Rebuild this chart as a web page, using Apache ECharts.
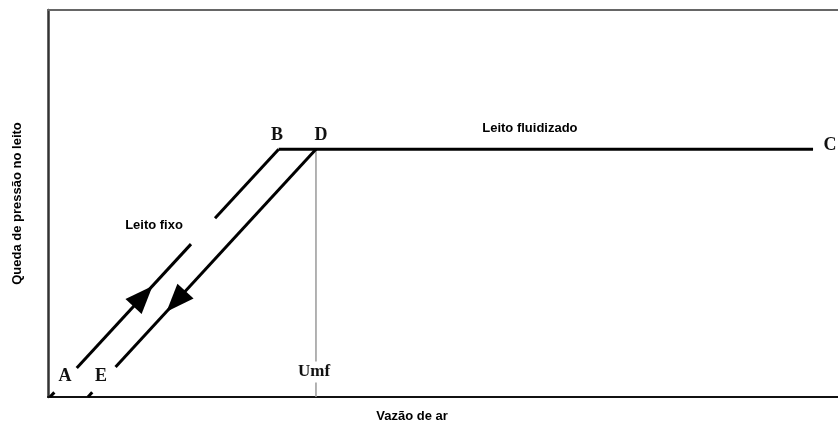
<!DOCTYPE html>
<html>
<head>
<meta charset="utf-8">
<script src="https://cdn.jsdelivr.net/npm/echarts@6/dist/echarts.min.js"></script>
<style>html,body{margin:0;padding:0;background:#fff}#c{width:838px;height:425px}</style>
</head>
<body>
<div id="c"></div>
<script>
// axis extents (arbitrary units)
const xRange = [0, 100];
const yRange = [0, 100];
const xTitle = 'Vazão de ar';
const yTitle = 'Queda de pressão no leito';

// fixed bed, rising flow (A -> B), drawn in two pieces with a gap
const riseStub = [[0.25, 0], [0.8, 1.2]];
const riseLow = [[3.64, 7.5], [18.1, 39.5]];
const riseHigh = [[21.14, 46.2], [29.2, 64]];
// plateau B -> C
const plateau = [[29.2, 64], [96.84, 64]];
// falling flow (D -> E)
const fallStub = [[5.06, 0], [5.6, 1.2]];
const fallMain = [[8.55, 7.75], [33.92, 64]];
// Umf marker
const umfLine = [[33.92, 0], [33.92, 64]];
// direction arrows
const arrowUp = [[12.03, 26.05]];
const arrowDown = [[16.2, 24.7]];
// point letters
const letterLabels = [
  {name: 'A', value: [2.15, 5.43]},
  {name: 'E', value: [6.71, 5.43]},
  {name: 'B', value: [28.99, 67.7]},
  {name: 'D', value: [34.56, 67.7]},
  {name: 'C', value: [98.99, 64.9]}
];
const umfLabel = [{name: 'Umf', value: [33.67, 6.46]}];
const regionLabels = [
  {name: 'Leito fixo', value: [13.42, 44.4]},
  {name: 'Leito fluidizado', value: [61.0, 69.5]}
];

const chart = echarts.init(document.getElementById('c'), null, {renderer: 'canvas'});
const blackLine = (data) => ({
  type: 'line', data: data, symbol: 'none', silent: true,
  lineStyle: {color: '#000', width: 3}, z: 3
});
const solid = {opacity: 1, color: '#000'};
chart.setOption({
  backgroundColor: '#fff',
  animation: false,
  grid: {left: 48, right: 0, top: 10, bottom: 28, containLabel: false, outerBoundsMode: 'none'},
  xAxis: [{
    type: 'value', min: xRange[0], max: xRange[1],
    axisLine: {show: true, lineStyle: {color: '#111', width: 2}},
    axisTick: {show: false}, axisLabel: {show: false}, splitLine: {show: false},
    name: xTitle, nameLocation: 'middle', nameGap: 13,
    nameTextStyle: {fontFamily: 'Liberation Sans', fontWeight: 'bold', fontSize: 13, color: '#000', padding: [0, 62, 0, 0]}
  }, {
    type: 'value', position: 'top', min: xRange[0], max: xRange[1],
    axisLine: {show: true, lineStyle: {color: '#666', width: 2}},
    axisTick: {show: false}, axisLabel: {show: false}, splitLine: {show: false}
  }],
  yAxis: {
    type: 'value', min: yRange[0], max: yRange[1],
    axisLine: {show: true, lineStyle: {color: '#333', width: 2.5}},
    axisTick: {show: false}, axisLabel: {show: false}, splitLine: {show: false},
    name: yTitle, nameLocation: 'middle', nameGap: 24, nameRotate: 90,
    nameTextStyle: {fontFamily: 'Liberation Sans', fontWeight: 'bold', fontSize: 13, color: '#000'}
  },
  series: [
    {type: 'line', data: umfLine, symbol: 'none', silent: true, lineStyle: {color: '#999', width: 1.5}, z: 2},
    blackLine(riseStub), blackLine(riseLow), blackLine(riseHigh), blackLine(plateau),
    blackLine(fallStub), blackLine(fallMain),
    {type: 'scatter', data: arrowUp, symbol: 'triangle', symbolSize: [22, 28], symbolRotate: -42.8,
     itemStyle: solid, silent: true, z: 4},
    {type: 'scatter', data: arrowDown, symbol: 'triangle', symbolSize: [22, 28], symbolRotate: 137.2,
     itemStyle: solid, silent: true, z: 4},
    {type: 'scatter', data: letterLabels, symbolSize: 0, silent: true, z: 5, itemStyle: solid,
     label: {show: true, position: 'inside', formatter: '{b}', fontFamily: 'Liberation Serif', fontWeight: 'bold', fontSize: 18, color: '#111'}},
    {type: 'scatter', data: umfLabel, symbolSize: 0, silent: true, z: 5, itemStyle: solid,
     label: {show: true, position: 'inside', formatter: '{b}', fontFamily: 'Liberation Serif', fontWeight: 'bold', fontSize: 17, color: '#111',
             backgroundColor: '#fff', padding: [2, 1]}},
    {type: 'scatter', data: regionLabels, symbolSize: 0, silent: true, z: 5, itemStyle: solid,
     label: {show: true, position: 'inside', formatter: '{b}', fontFamily: 'Liberation Sans', fontWeight: 'bold', fontSize: 13, color: '#000'}}
  ]
});
</script>
</body>
</html>
